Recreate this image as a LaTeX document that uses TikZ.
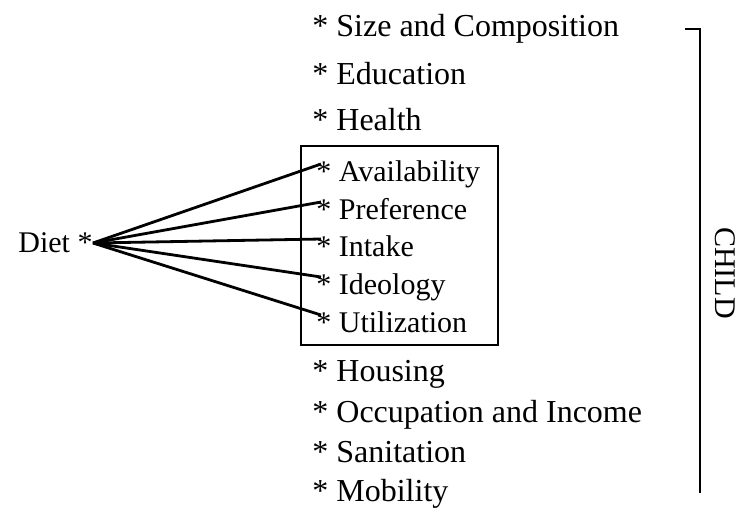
\documentclass[tikz,border=0pt]{standalone}
\usepackage{fontspec}
\setmainfont{Liberation Serif}
\begin{document}
\begin{tikzpicture}[x=0.5pt, y=-0.5pt,
  every node/.style={font=\fontsize{15}{18}\selectfont, inner sep=0pt, anchor=base west},
  outer/.style={font=\fontsize{16}{19}\selectfont},
  link/.style={line width=1.4pt}
]
\useasboundingbox (0,0) rectangle (738,510);

% upper factors
\node[outer] (size) at (312,36) {* Size and Composition};
\node[outer] (educ) at (312,84) {* Education};
\node[outer] (health) at (312,130) {* Health};

% diet factors (boxed)
\node (avail) at (316,181) {* Availability};
\node (pref) at (316,219) {* Preference};
\node (intake) at (316,256) {* Intake};
\node (ideol) at (316,294) {* Ideology};
\node (util) at (316,332) {* Utilization};
\node[draw, line width=0.9pt, anchor=north west, minimum width=98.5pt, minimum height=99.5pt] (dietbox) at (300,145) {};

% lower factors
\node[outer] (housing) at (312,381) {* Housing};
\node[outer] (occup) at (312,422) {* Occupation and Income};
\node[outer] (sanit) at (312,462) {* Sanitation};
\node[outer] (mobil) at (312,501) {* Mobility};

% diet and its links
\node (diet) at (18,252) {Diet *};
\coordinate (hub) at ([shift={(0pt,4.5pt)}]diet.base east);
\draw[link] (hub) -- ([shift={(2.5pt,8.5pt)}]avail.base west);
\draw[link] (hub) -- ([shift={(2.5pt,8.5pt)}]pref.base west);
\draw[link] (hub) -- ([shift={(2.5pt,8.5pt)}]intake.base west);
\draw[link] (hub) -- ([shift={(2.5pt,8.5pt)}]ideol.base west);
\draw[link] (hub) -- ([shift={(2.5pt,8.5pt)}]util.base west);

% child bracket
\coordinate (btick) at (685,29);
\coordinate (btop) at (700,29);
\coordinate (bbot) at (700,493);
\draw[line width=0.7pt] (btick) -- (btop) -- (bbot);
\node[rotate=-90, anchor=center] (child) at (725,273) {CHILD};

\end{tikzpicture}
\end{document}
